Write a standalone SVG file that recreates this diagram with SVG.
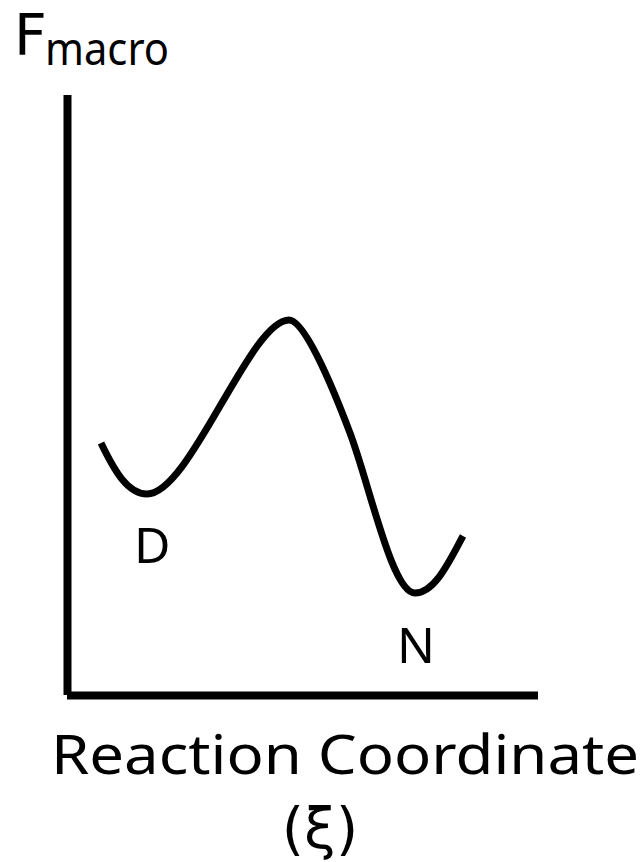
<svg xmlns="http://www.w3.org/2000/svg" width="642" height="862" viewBox="0 0 642 862">
<style>
text{font-family:"Noto Sans","DejaVu Sans","Liberation Sans",sans-serif;fill:#000}
.dv{font-family:"DejaVu Sans","Liberation Sans",sans-serif}
.axis{stroke:#000;stroke-width:8;fill:none}
.curve{stroke:#000;stroke-width:7;fill:none;stroke-linecap:butt;stroke-linejoin:round}
</style>
<rect width="642" height="862" fill="#fff"/>
<g id="axes">
<line class="axis" x1="67.5" y1="95" x2="67.5" y2="695"/>
<line class="axis" x1="67" y1="695.5" x2="538" y2="695.5"/>
</g>
<g id="curve">
<path class="curve" d="M101,443 C115,472 128,494 147,494 C190,494 250,320 289,320 C304,320 330,380 350,433 C370,486 392,593 415,593 C435,593 450,560 463,536"/>
</g>
<g id="y-label">
<text class="dv" x="14" y="55" font-size="57">F</text>
<text x="45" y="65" font-size="46" textLength="124" lengthAdjust="spacingAndGlyphs">macro</text>
</g>
<g id="node-D"><text x="134" y="562.7" font-size="50">D</text></g>
<g id="node-N"><text x="397" y="662.7" font-size="50">N</text></g>
<g id="x-label">
<text x="51" y="774" font-size="54" textLength="588" lengthAdjust="spacingAndGlyphs">Reaction Coordinate</text>
<text class="dv" x="320" y="848" font-size="57" text-anchor="middle">(ξ)</text>
</g>
</svg>
